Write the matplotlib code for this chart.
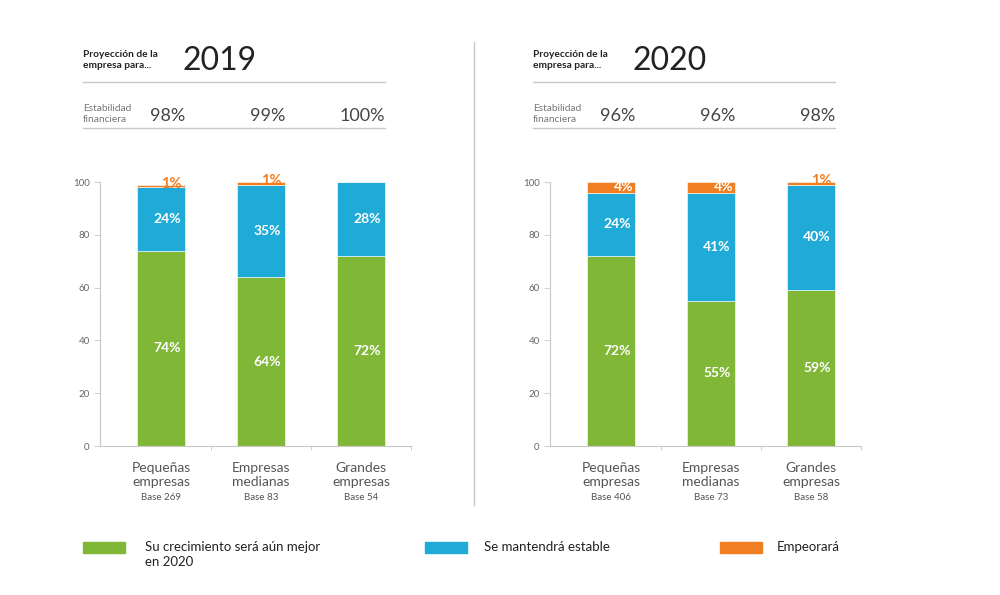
import matplotlib.pyplot as plt
from matplotlib.patches import Rectangle
from matplotlib.lines import Line2D

plt.rcParams['font.family'] = ['Lato', 'DejaVu Sans']

categories = ['Pequeñas\nempresas', 'Empresas\nmedianas', 'Grandes\nempresas']
years = ['2019', '2020']
mejor = {'2019': [74, 64, 72], '2020': [72, 55, 59]}
estable = {'2019': [24, 35, 28], '2020': [24, 41, 40]}
empeora = {'2019': [1, 1, 0], '2020': [4, 4, 1]}
estabilidad = {'2019': ['98%', '99%', '100%'], '2020': ['96%', '96%', '98%']}
bases = {'2019': ['Base 269', 'Base 83', 'Base 54'], '2020': ['Base 406', 'Base 73', 'Base 58']}
legend_labels = ['Su crecimiento será aún mejor\nen 2020', 'Se mantendrá estable', 'Empeorará']

GREEN = '#80B737'
BLUE = '#1FAAD8'
ORANGE = '#EF7F22'
GRAY = '#555555'
LINE = '#C8C8C8'

W, H = 1000, 595
fig = plt.figure(figsize=(W / 100, H / 100), dpi=100)


def fx(px):
    return px / W


def fy(py):
    return 1 - py / H


def draw_panel(year, x0):
    # x0 = left edge of the header block in pixels
    ax = fig.add_axes([fx(x0 + 17), fy(446), fx(311), fy(182) - fy(446)])
    x = range(len(categories))
    g, b, o = mejor[year], estable[year], empeora[year]
    w = 0.48
    ax.bar(x, g, width=w, color=GREEN, edgecolor='white', linewidth=0.4)
    ax.bar(x, b, width=w, bottom=g, color=BLUE, edgecolor='white', linewidth=0.4)
    bottoms = [gi + bi for gi, bi in zip(g, b)]
    ax.bar(x, o, width=w, bottom=bottoms, color=ORANGE, edgecolor='white', linewidth=0.4)

    for i in x:
        ax.text(i + 0.06, g[i] / 2, f'{g[i]}%', ha='center', va='center',
                color='white', fontsize=10, fontweight='bold')
        ax.text(i + 0.06, g[i] + b[i] / 2, f'{b[i]}%', ha='center', va='center',
                color='white', fontsize=10, fontweight='bold')
        if o[i] >= 3:
            ax.text(i + 0.13, bottoms[i] + o[i] / 2, f'{o[i]}%', ha='center', va='center',
                    color='white', fontsize=10, fontweight='bold')
        elif o[i] > 0:
            ax.text(i + 0.1, bottoms[i] + o[i] + 0.3, f'{o[i]}%', ha='center', va='center',
                    color=ORANGE, fontsize=10.5, fontweight='bold')

    ax.set_xlim(-0.61, 2.5)
    ax.set_ylim(0, 100)
    ax.set_yticks(range(0, 101, 20))
    ax.set_xticks([])
    ax.set_xticks([0.5, 1.5, 2.5], minor=True)
    ax.tick_params(axis='y', labelsize=7, colors='#666666', length=4, width=0.6, color=LINE)
    ax.tick_params(axis='x', which='minor', length=3, width=0.6, color=LINE)
    for s in ['top', 'right']:
        ax.spines[s].set_visible(False)
    for s in ['left', 'bottom']:
        ax.spines[s].set_color(LINE)
        ax.spines[s].set_linewidth(0.8)

    # category labels
    centers = [x0 + 78 + 100 * i for i in range(3)]
    for i, c in enumerate(centers):
        fig.text(fx(c), fy(475), categories[i], ha='center', va='center',
                 fontsize=10, color=GRAY, linespacing=1.3)
        fig.text(fx(c), fy(497), bases[year][i], ha='center', va='center',
                 fontsize=7, color=GRAY)

    # header
    fig.text(fx(x0), fy(60), 'Proyección de la\nempresa para...', ha='left', va='center',
             fontsize=7.3, fontweight='bold', color='#222222', linespacing=1.2)
    fig.text(fx(x0 + 99), fy(61), year, ha='left', va='center',
             fontsize=23, color='#222222')
    fig.add_artist(Line2D([fx(x0), fx(x0 + 302)], [fy(82), fy(82)], color=LINE, lw=1))
    fig.text(fx(x0), fy(114), 'Estabilidad\nfinanciera', ha='left', va='center',
             fontsize=7.3, color='#777777', linespacing=1.2)
    for i in range(3):
        fig.text(fx(x0 + 102 + 100 * i), fy(116), estabilidad[year][i], ha='right', va='center',
                 fontsize=13, color='#444444')
    fig.add_artist(Line2D([fx(x0), fx(x0 + 302)], [fy(128), fy(128)], color=LINE, lw=1))


draw_panel('2019', 83)
draw_panel('2020', 533)

# divider
fig.add_artist(Line2D([fx(474), fx(474)], [fy(42), fy(505)], color=LINE, lw=1))

# legend
legend_items = [(83, 145, GREEN), (425, 484, BLUE), (720, 777, ORANGE)]
for (px, tx, col), lab in zip(legend_items, legend_labels):
    fig.add_artist(Rectangle((fx(px), fy(553)), fx(42), fy(542) - fy(553), color=col))
    fig.text(fx(tx), fy(541), lab, ha='left', va='top',
             fontsize=9.5, color='#222222', linespacing=1.35)

fig.savefig('out.png', dpi=100)
